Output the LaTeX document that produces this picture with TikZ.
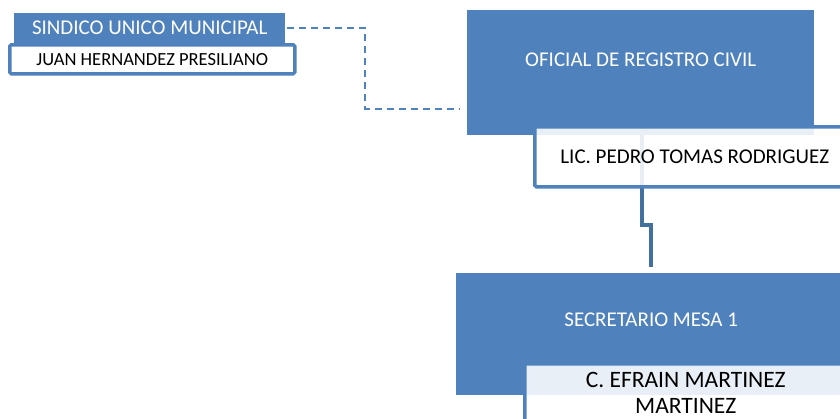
\documentclass[tikz,border=0pt]{standalone}
\usepackage{fontspec}
\setmainfont{Carlito}
\usepackage{xcolor}
\usetikzlibrary{positioning}
\definecolor{cargo}{HTML}{4F81BD}
\definecolor{enlace}{HTML}{41719C}

\begin{document}
\begin{tikzpicture}[x=1pt, y=-1pt,
				cargo/.style={fill=cargo, anchor=north west, inner sep=0pt},
				nombre/.style={draw=cargo, line width=3.5pt, fill=white, fill opacity=0.88,
					text opacity=1, rounded corners=1.5pt, anchor=north west, inner sep=0pt, align=center},
				titulo/.style={text=white, inner sep=0pt, font=\fontsize{21}{25}\selectfont},
				conector/.style={draw=enlace, line width=4pt, shorten >=6pt},
				punteado/.style={draw=cargo, line width=2pt, dash pattern=on 7pt off 5pt,
					shorten <=2pt, shorten >=7pt}]
				\useasboundingbox (0,0) rectangle (840,418);
				% sindico
				\node at (14,13) (sind) [cargo, minimum width=271pt, minimum height=30pt, text=white,
					font=\fontsize{21}{25}\selectfont] {SINDICO UNICO MUNICIPAL};
				\node at (8,43) (juan) [nombre, minimum width=285pt, minimum height=29pt,
					font=\fontsize{18.5}{22}\selectfont] {JUAN HERNANDEZ PRESILIANO};
				% oficial
				\node at (467,10) (ofi) [cargo, minimum width=347pt, minimum height=125pt] {};
				\node at ([yshift=12.5pt]ofi.center) (ofit) [titulo] {OFICIAL DE REGISTRO CIVIL};
				\draw[punteado] (sind.east) -- ++(80,0) |- ([yshift=-36pt]ofi.west);
				% secretario
				\node at (456,273) (sec) [cargo, minimum width=390pt, minimum height=122pt] {};
				\node at ([yshift=14pt]sec.center) (sect) [titulo] {SECRETARIO MESA 1};
				\draw[conector] ([xshift=1.5pt]ofi.south) |- ([yshift=48pt]sec.north) -- (sec.north);
				\node at (533,125) (pedro) [nombre, minimum width=320pt, minimum height=60pt,
					font=\fontsize{21}{25}\selectfont] {LIC. PEDRO TOMAS RODRIGUEZ};
				\node at (523,362) (efrain) [nombre, minimum width=322pt, minimum height=58pt,
					font=\fontsize{23.5}{26.5}\selectfont] {C. EFRAIN MARTINEZ\\MARTINEZ};
			\end{tikzpicture}
\end{document}
